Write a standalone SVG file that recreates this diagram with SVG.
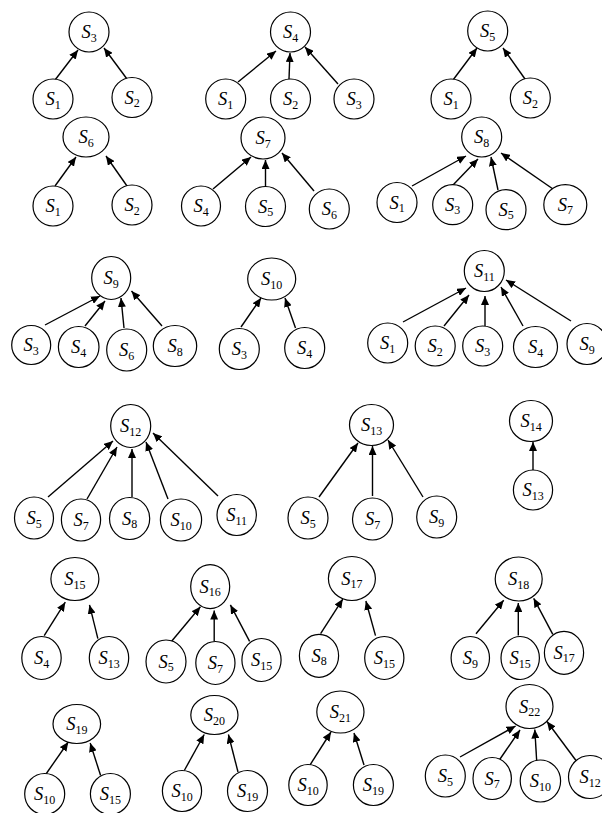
<svg xmlns="http://www.w3.org/2000/svg" width="602" height="813" viewBox="0 0 602 813">
<style>
.n ellipse{fill:#fff;stroke:#000;stroke-width:1.2}
.n text{font-family:"Liberation Serif","DejaVu Serif",serif;font-size:18.5px;font-style:italic;text-anchor:middle;fill:#000}
.n tspan{font-size:12px;font-style:normal}
.e line{stroke:#000;stroke-width:1.4;marker-end:url(#ah)}
</style>
<defs>
<marker id="ah" markerUnits="userSpaceOnUse" markerWidth="10" markerHeight="8" refX="9" refY="4" orient="auto">
<path d="M0,0 L9,4 L0,8 z" fill="#000"/>
</marker>
</defs>
<rect width="602" height="813" fill="#fff"/>
<g id="connectors" class="e">
<line x1="55" y1="80" x2="78" y2="50"/>
<line x1="127" y1="79" x2="104" y2="48"/>
<line x1="238" y1="82" x2="276" y2="51"/>
<line x1="289" y1="79" x2="290" y2="53"/>
<line x1="338" y1="84" x2="305" y2="47"/>
<line x1="453" y1="80" x2="477" y2="48"/>
<line x1="525" y1="79" x2="503" y2="48"/>
<line x1="55" y1="186" x2="76" y2="157"/>
<line x1="127" y1="186" x2="106" y2="156"/>
<line x1="213" y1="189" x2="251" y2="157"/>
<line x1="265.5" y1="186" x2="265.5" y2="160"/>
<line x1="314" y1="191" x2="282" y2="153"/>
<line x1="412" y1="186" x2="466" y2="156"/>
<line x1="453" y1="185" x2="478" y2="159"/>
<line x1="498" y1="190" x2="491" y2="157"/>
<line x1="553" y1="189" x2="501" y2="153"/>
<line x1="45" y1="325" x2="100" y2="296"/>
<line x1="85" y1="326" x2="105" y2="301"/>
<line x1="124" y1="328" x2="121" y2="298"/>
<line x1="162" y1="326" x2="131.5" y2="291"/>
<line x1="241" y1="327" x2="261" y2="298"/>
<line x1="295.5" y1="328" x2="285" y2="298"/>
<line x1="403" y1="322" x2="466" y2="288"/>
<line x1="444" y1="326" x2="469" y2="295"/>
<line x1="485" y1="326" x2="485" y2="296"/>
<line x1="523" y1="326" x2="501" y2="287"/>
<line x1="571" y1="321" x2="506" y2="280"/>
<line x1="48" y1="497" x2="113" y2="441"/>
<line x1="87" y1="499" x2="117" y2="447"/>
<line x1="132" y1="497" x2="132" y2="449"/>
<line x1="168" y1="499" x2="146" y2="442"/>
<line x1="218" y1="496" x2="153" y2="433"/>
<line x1="319" y1="497" x2="358" y2="443"/>
<line x1="372.5" y1="496" x2="372.5" y2="446"/>
<line x1="423" y1="497" x2="388" y2="440"/>
<line x1="533" y1="470" x2="533" y2="442"/>
<line x1="44.2" y1="635.6" x2="65.3" y2="602.2"/>
<line x1="97.9" y1="638.7" x2="89.5" y2="604.9"/>
<line x1="171.6" y1="641.3" x2="200.4" y2="606.8"/>
<line x1="214.2" y1="641.3" x2="214.2" y2="610.6"/>
<line x1="249.6" y1="641.3" x2="230.4" y2="604.9"/>
<line x1="320.6" y1="633.7" x2="342.8" y2="599.1"/>
<line x1="375.5" y1="635.6" x2="365.9" y2="601"/>
<line x1="476" y1="633.7" x2="503.7" y2="600.3"/>
<line x1="518.3" y1="635.6" x2="518.3" y2="603"/>
<line x1="552.8" y1="634.4" x2="533.7" y2="598.3"/>
<line x1="46" y1="774" x2="68.3" y2="742"/>
<line x1="100.6" y1="775.5" x2="90.2" y2="743"/>
<line x1="184.3" y1="770.5" x2="204.2" y2="734.5"/>
<line x1="238" y1="772" x2="228.4" y2="734.5"/>
<line x1="310" y1="765" x2="331" y2="732"/>
<line x1="364" y1="765" x2="354" y2="733"/>
<line x1="460" y1="757" x2="515.6" y2="726"/>
<line x1="499" y1="760.5" x2="520" y2="730"/>
<line x1="536.7" y1="761" x2="534.8" y2="729.5"/>
<line x1="576" y1="760.5" x2="547" y2="721.5"/>
</g>
<g id="t3-s3" class="n"><ellipse cx="89" cy="32" rx="20" ry="20"/><text x="89" y="38">S<tspan dy="3.5">3</tspan></text></g>
<g id="t3-s1" class="n"><ellipse cx="53" cy="99" rx="20" ry="20"/><text x="53" y="105">S<tspan dy="3.5">1</tspan></text></g>
<g id="t3-s2" class="n"><ellipse cx="132" cy="97.5" rx="20" ry="20"/><text x="132" y="103.5">S<tspan dy="3.5">2</tspan></text></g>
<g id="t4-s4" class="n"><ellipse cx="290.5" cy="32" rx="20" ry="20"/><text x="290.5" y="38">S<tspan dy="3.5">4</tspan></text></g>
<g id="t4-s1" class="n"><ellipse cx="225.7" cy="99" rx="20" ry="20"/><text x="225.7" y="105">S<tspan dy="3.5">1</tspan></text></g>
<g id="t4-s2" class="n"><ellipse cx="290.5" cy="99" rx="20" ry="20"/><text x="290.5" y="105">S<tspan dy="3.5">2</tspan></text></g>
<g id="t4-s3" class="n"><ellipse cx="354" cy="99" rx="20" ry="20"/><text x="354" y="105">S<tspan dy="3.5">3</tspan></text></g>
<g id="t5-s5" class="n"><ellipse cx="487.7" cy="31" rx="20" ry="20"/><text x="487.7" y="37">S<tspan dy="3.5">5</tspan></text></g>
<g id="t5-s1" class="n"><ellipse cx="451" cy="99" rx="20" ry="20"/><text x="451" y="105">S<tspan dy="3.5">1</tspan></text></g>
<g id="t5-s2" class="n"><ellipse cx="530.3" cy="98" rx="20" ry="20"/><text x="530.3" y="104">S<tspan dy="3.5">2</tspan></text></g>
<g id="t6-s6" class="n"><ellipse cx="86" cy="137" rx="23" ry="20"/><text x="86" y="143">S<tspan dy="3.5">6</tspan></text></g>
<g id="t6-s1" class="n"><ellipse cx="53" cy="206" rx="20" ry="20"/><text x="53" y="212">S<tspan dy="3.5">1</tspan></text></g>
<g id="t6-s2" class="n"><ellipse cx="132" cy="205" rx="20" ry="20"/><text x="132" y="211">S<tspan dy="3.5">2</tspan></text></g>
<g id="t7-s7" class="n"><ellipse cx="263" cy="138" rx="22" ry="21"/><text x="263" y="144">S<tspan dy="3.5">7</tspan></text></g>
<g id="t7-s4" class="n"><ellipse cx="201" cy="206" rx="19.5" ry="20"/><text x="201" y="212">S<tspan dy="3.5">4</tspan></text></g>
<g id="t7-s5" class="n"><ellipse cx="265.5" cy="206.5" rx="20" ry="20"/><text x="265.5" y="212.5">S<tspan dy="3.5">5</tspan></text></g>
<g id="t7-s6" class="n"><ellipse cx="329.3" cy="209" rx="20" ry="20"/><text x="329.3" y="215">S<tspan dy="3.5">6</tspan></text></g>
<g id="t8-s8" class="n"><ellipse cx="481.7" cy="137" rx="20" ry="20"/><text x="481.7" y="143">S<tspan dy="3.5">8</tspan></text></g>
<g id="t8-s1" class="n"><ellipse cx="397" cy="202.5" rx="20" ry="20"/><text x="397" y="208.5">S<tspan dy="3.5">1</tspan></text></g>
<g id="t8-s3" class="n"><ellipse cx="452.7" cy="204.7" rx="20" ry="20"/><text x="452.7" y="210.7">S<tspan dy="3.5">3</tspan></text></g>
<g id="t8-s5" class="n"><ellipse cx="506" cy="209.7" rx="20" ry="20"/><text x="506" y="215.7">S<tspan dy="3.5">5</tspan></text></g>
<g id="t8-s7" class="n"><ellipse cx="565.3" cy="204.7" rx="21.5" ry="20"/><text x="565.3" y="210.7">S<tspan dy="3.5">7</tspan></text></g>
<g id="t9-s9" class="n"><ellipse cx="111.2" cy="278" rx="19.5" ry="21.5"/><text x="111.2" y="284">S<tspan dy="3.5">9</tspan></text></g>
<g id="t9-s3" class="n"><ellipse cx="31.2" cy="345" rx="19.5" ry="19.5"/><text x="31.2" y="351">S<tspan dy="3.5">3</tspan></text></g>
<g id="t9-s4" class="n"><ellipse cx="78.7" cy="347" rx="20.3" ry="20.5"/><text x="78.7" y="353">S<tspan dy="3.5">4</tspan></text></g>
<g id="t9-s6" class="n"><ellipse cx="126.7" cy="350" rx="20" ry="21"/><text x="126.7" y="356">S<tspan dy="3.5">6</tspan></text></g>
<g id="t9-s8" class="n"><ellipse cx="175" cy="346" rx="21.7" ry="20.5"/><text x="175" y="352">S<tspan dy="3.5">8</tspan></text></g>
<g id="t10-s10" class="n"><ellipse cx="271.7" cy="279" rx="24" ry="21"/><text x="271.7" y="285">S<tspan dy="3.5">10</tspan></text></g>
<g id="t10-s3" class="n"><ellipse cx="239.3" cy="349" rx="20" ry="20.5"/><text x="239.3" y="355">S<tspan dy="3.5">3</tspan></text></g>
<g id="t10-s4" class="n"><ellipse cx="304.7" cy="348" rx="20" ry="20.5"/><text x="304.7" y="354">S<tspan dy="3.5">4</tspan></text></g>
<g id="t11-s11" class="n"><ellipse cx="484.3" cy="271" rx="20" ry="20.5"/><text x="484.3" y="277">S<tspan dy="3.5">11</tspan></text></g>
<g id="t11-s1" class="n"><ellipse cx="387.7" cy="343" rx="20" ry="20"/><text x="387.7" y="349">S<tspan dy="3.5">1</tspan></text></g>
<g id="t11-s2" class="n"><ellipse cx="435.2" cy="346" rx="20" ry="20"/><text x="435.2" y="352">S<tspan dy="3.5">2</tspan></text></g>
<g id="t11-s3" class="n"><ellipse cx="482.7" cy="346" rx="20" ry="20"/><text x="482.7" y="352">S<tspan dy="3.5">3</tspan></text></g>
<g id="t11-s4" class="n"><ellipse cx="535.5" cy="347" rx="22" ry="20.5"/><text x="535.5" y="353">S<tspan dy="3.5">4</tspan></text></g>
<g id="t11-s9" class="n"><ellipse cx="587" cy="344" rx="20" ry="20.5"/><text x="587" y="350">S<tspan dy="3.5">9</tspan></text></g>
<g id="t12-s12" class="n"><ellipse cx="130.7" cy="426" rx="20" ry="21.5"/><text x="130.7" y="432">S<tspan dy="3.5">12</tspan></text></g>
<g id="t12-s5" class="n"><ellipse cx="34" cy="518" rx="19.5" ry="21"/><text x="34" y="524">S<tspan dy="3.5">5</tspan></text></g>
<g id="t12-s7" class="n"><ellipse cx="81" cy="520" rx="19.6" ry="21"/><text x="81" y="526">S<tspan dy="3.5">7</tspan></text></g>
<g id="t12-s8" class="n"><ellipse cx="129.6" cy="518.5" rx="20.1" ry="21"/><text x="129.6" y="524.5">S<tspan dy="3.5">8</tspan></text></g>
<g id="t12-s10" class="n"><ellipse cx="181" cy="520" rx="20.6" ry="21"/><text x="181" y="526">S<tspan dy="3.5">10</tspan></text></g>
<g id="t12-s11" class="n"><ellipse cx="236.7" cy="515" rx="19.7" ry="20.5"/><text x="236.7" y="521">S<tspan dy="3.5">11</tspan></text></g>
<g id="t13-s13" class="n"><ellipse cx="371.5" cy="425" rx="22" ry="20.5"/><text x="371.5" y="431">S<tspan dy="3.5">13</tspan></text></g>
<g id="t13-s5" class="n"><ellipse cx="308" cy="518" rx="20" ry="21"/><text x="308" y="524">S<tspan dy="3.5">5</tspan></text></g>
<g id="t13-s7" class="n"><ellipse cx="372.5" cy="519" rx="20" ry="21"/><text x="372.5" y="525">S<tspan dy="3.5">7</tspan></text></g>
<g id="t13-s9" class="n"><ellipse cx="436.7" cy="517" rx="20" ry="21"/><text x="436.7" y="523">S<tspan dy="3.5">9</tspan></text></g>
<g id="t14-s14" class="n"><ellipse cx="531" cy="421" rx="21.5" ry="20.5"/><text x="531" y="427">S<tspan dy="3.5">14</tspan></text></g>
<g id="t14-s13" class="n"><ellipse cx="533" cy="490" rx="19.6" ry="20"/><text x="533" y="496">S<tspan dy="3.5">13</tspan></text></g>
<g id="t15-s15" class="n"><ellipse cx="74.9" cy="579" rx="24" ry="21.5"/><text x="74.9" y="585">S<tspan dy="3.5">15</tspan></text></g>
<g id="t15-s4" class="n"><ellipse cx="41.5" cy="658" rx="19.7" ry="21.5"/><text x="41.5" y="664">S<tspan dy="3.5">4</tspan></text></g>
<g id="t15-s13" class="n"><ellipse cx="109" cy="658" rx="19.7" ry="21.5"/><text x="109" y="664">S<tspan dy="3.5">13</tspan></text></g>
<g id="t16-s16" class="n"><ellipse cx="210.2" cy="586.6" rx="19.5" ry="22"/><text x="210.2" y="592.6">S<tspan dy="3.5">16</tspan></text></g>
<g id="t16-s5" class="n"><ellipse cx="166" cy="661.5" rx="20" ry="21.5"/><text x="166" y="667.5">S<tspan dy="3.5">5</tspan></text></g>
<g id="t16-s7" class="n"><ellipse cx="215.4" cy="663" rx="19.6" ry="21.5"/><text x="215.4" y="669">S<tspan dy="3.5">7</tspan></text></g>
<g id="t16-s15" class="n"><ellipse cx="261.5" cy="660" rx="19.6" ry="21.5"/><text x="261.5" y="666">S<tspan dy="3.5">15</tspan></text></g>
<g id="t17-s17" class="n"><ellipse cx="351.9" cy="578.5" rx="23.5" ry="22"/><text x="351.9" y="584.5">S<tspan dy="3.5">17</tspan></text></g>
<g id="t17-s8" class="n"><ellipse cx="319" cy="655.8" rx="19.6" ry="21.5"/><text x="319" y="661.8">S<tspan dy="3.5">8</tspan></text></g>
<g id="t17-s15" class="n"><ellipse cx="384.3" cy="658" rx="19.6" ry="21.5"/><text x="384.3" y="664">S<tspan dy="3.5">15</tspan></text></g>
<g id="t18-s18" class="n"><ellipse cx="518.7" cy="579" rx="23.5" ry="22"/><text x="518.7" y="585">S<tspan dy="3.5">18</tspan></text></g>
<g id="t18-s9" class="n"><ellipse cx="470.3" cy="658" rx="19.2" ry="21.5"/><text x="470.3" y="664">S<tspan dy="3.5">9</tspan></text></g>
<g id="t18-s15" class="n"><ellipse cx="520.2" cy="658" rx="19.2" ry="21.5"/><text x="520.2" y="664">S<tspan dy="3.5">15</tspan></text></g>
<g id="t18-s17" class="n"><ellipse cx="564" cy="652.8" rx="19.6" ry="21.5"/><text x="564" y="658.8">S<tspan dy="3.5">17</tspan></text></g>
<g id="t19-s19" class="n"><ellipse cx="76.8" cy="724" rx="23.8" ry="19.5"/><text x="76.8" y="730">S<tspan dy="3.5">19</tspan></text></g>
<g id="t19-s10" class="n"><ellipse cx="44.7" cy="794" rx="20" ry="20.5"/><text x="44.7" y="800">S<tspan dy="3.5">10</tspan></text></g>
<g id="t19-s15" class="n"><ellipse cx="110.4" cy="794" rx="20" ry="20.5"/><text x="110.4" y="800">S<tspan dy="3.5">15</tspan></text></g>
<g id="t20-s20" class="n"><ellipse cx="214.4" cy="715" rx="23.6" ry="19.5"/><text x="214.4" y="721">S<tspan dy="3.5">20</tspan></text></g>
<g id="t20-s10" class="n"><ellipse cx="182" cy="791" rx="19.6" ry="20.5"/><text x="182" y="797">S<tspan dy="3.5">10</tspan></text></g>
<g id="t20-s19" class="n"><ellipse cx="247.5" cy="791" rx="20" ry="20.5"/><text x="247.5" y="797">S<tspan dy="3.5">19</tspan></text></g>
<g id="t21-s21" class="n"><ellipse cx="340.4" cy="712" rx="23.6" ry="21"/><text x="340.4" y="718">S<tspan dy="3.5">21</tspan></text></g>
<g id="t21-s10" class="n"><ellipse cx="308" cy="785" rx="19.2" ry="20.5"/><text x="308" y="791">S<tspan dy="3.5">10</tspan></text></g>
<g id="t21-s19" class="n"><ellipse cx="373.4" cy="785" rx="20" ry="20.5"/><text x="373.4" y="791">S<tspan dy="3.5">19</tspan></text></g>
<g id="t22-s22" class="n"><ellipse cx="529.5" cy="706.5" rx="23.5" ry="22"/><text x="529.5" y="712.5">S<tspan dy="3.5">22</tspan></text></g>
<g id="t22-s5" class="n"><ellipse cx="445.3" cy="776" rx="20" ry="21"/><text x="445.3" y="782">S<tspan dy="3.5">5</tspan></text></g>
<g id="t22-s7" class="n"><ellipse cx="492.2" cy="778.5" rx="19.2" ry="21"/><text x="492.2" y="784.5">S<tspan dy="3.5">7</tspan></text></g>
<g id="t22-s10" class="n"><ellipse cx="540.4" cy="781" rx="20.2" ry="21"/><text x="540.4" y="787">S<tspan dy="3.5">10</tspan></text></g>
<g id="t22-s12" class="n"><ellipse cx="590" cy="777" rx="21.5" ry="21.5"/><text x="590" y="783">S<tspan dy="3.5">12</tspan></text></g>
</svg>
